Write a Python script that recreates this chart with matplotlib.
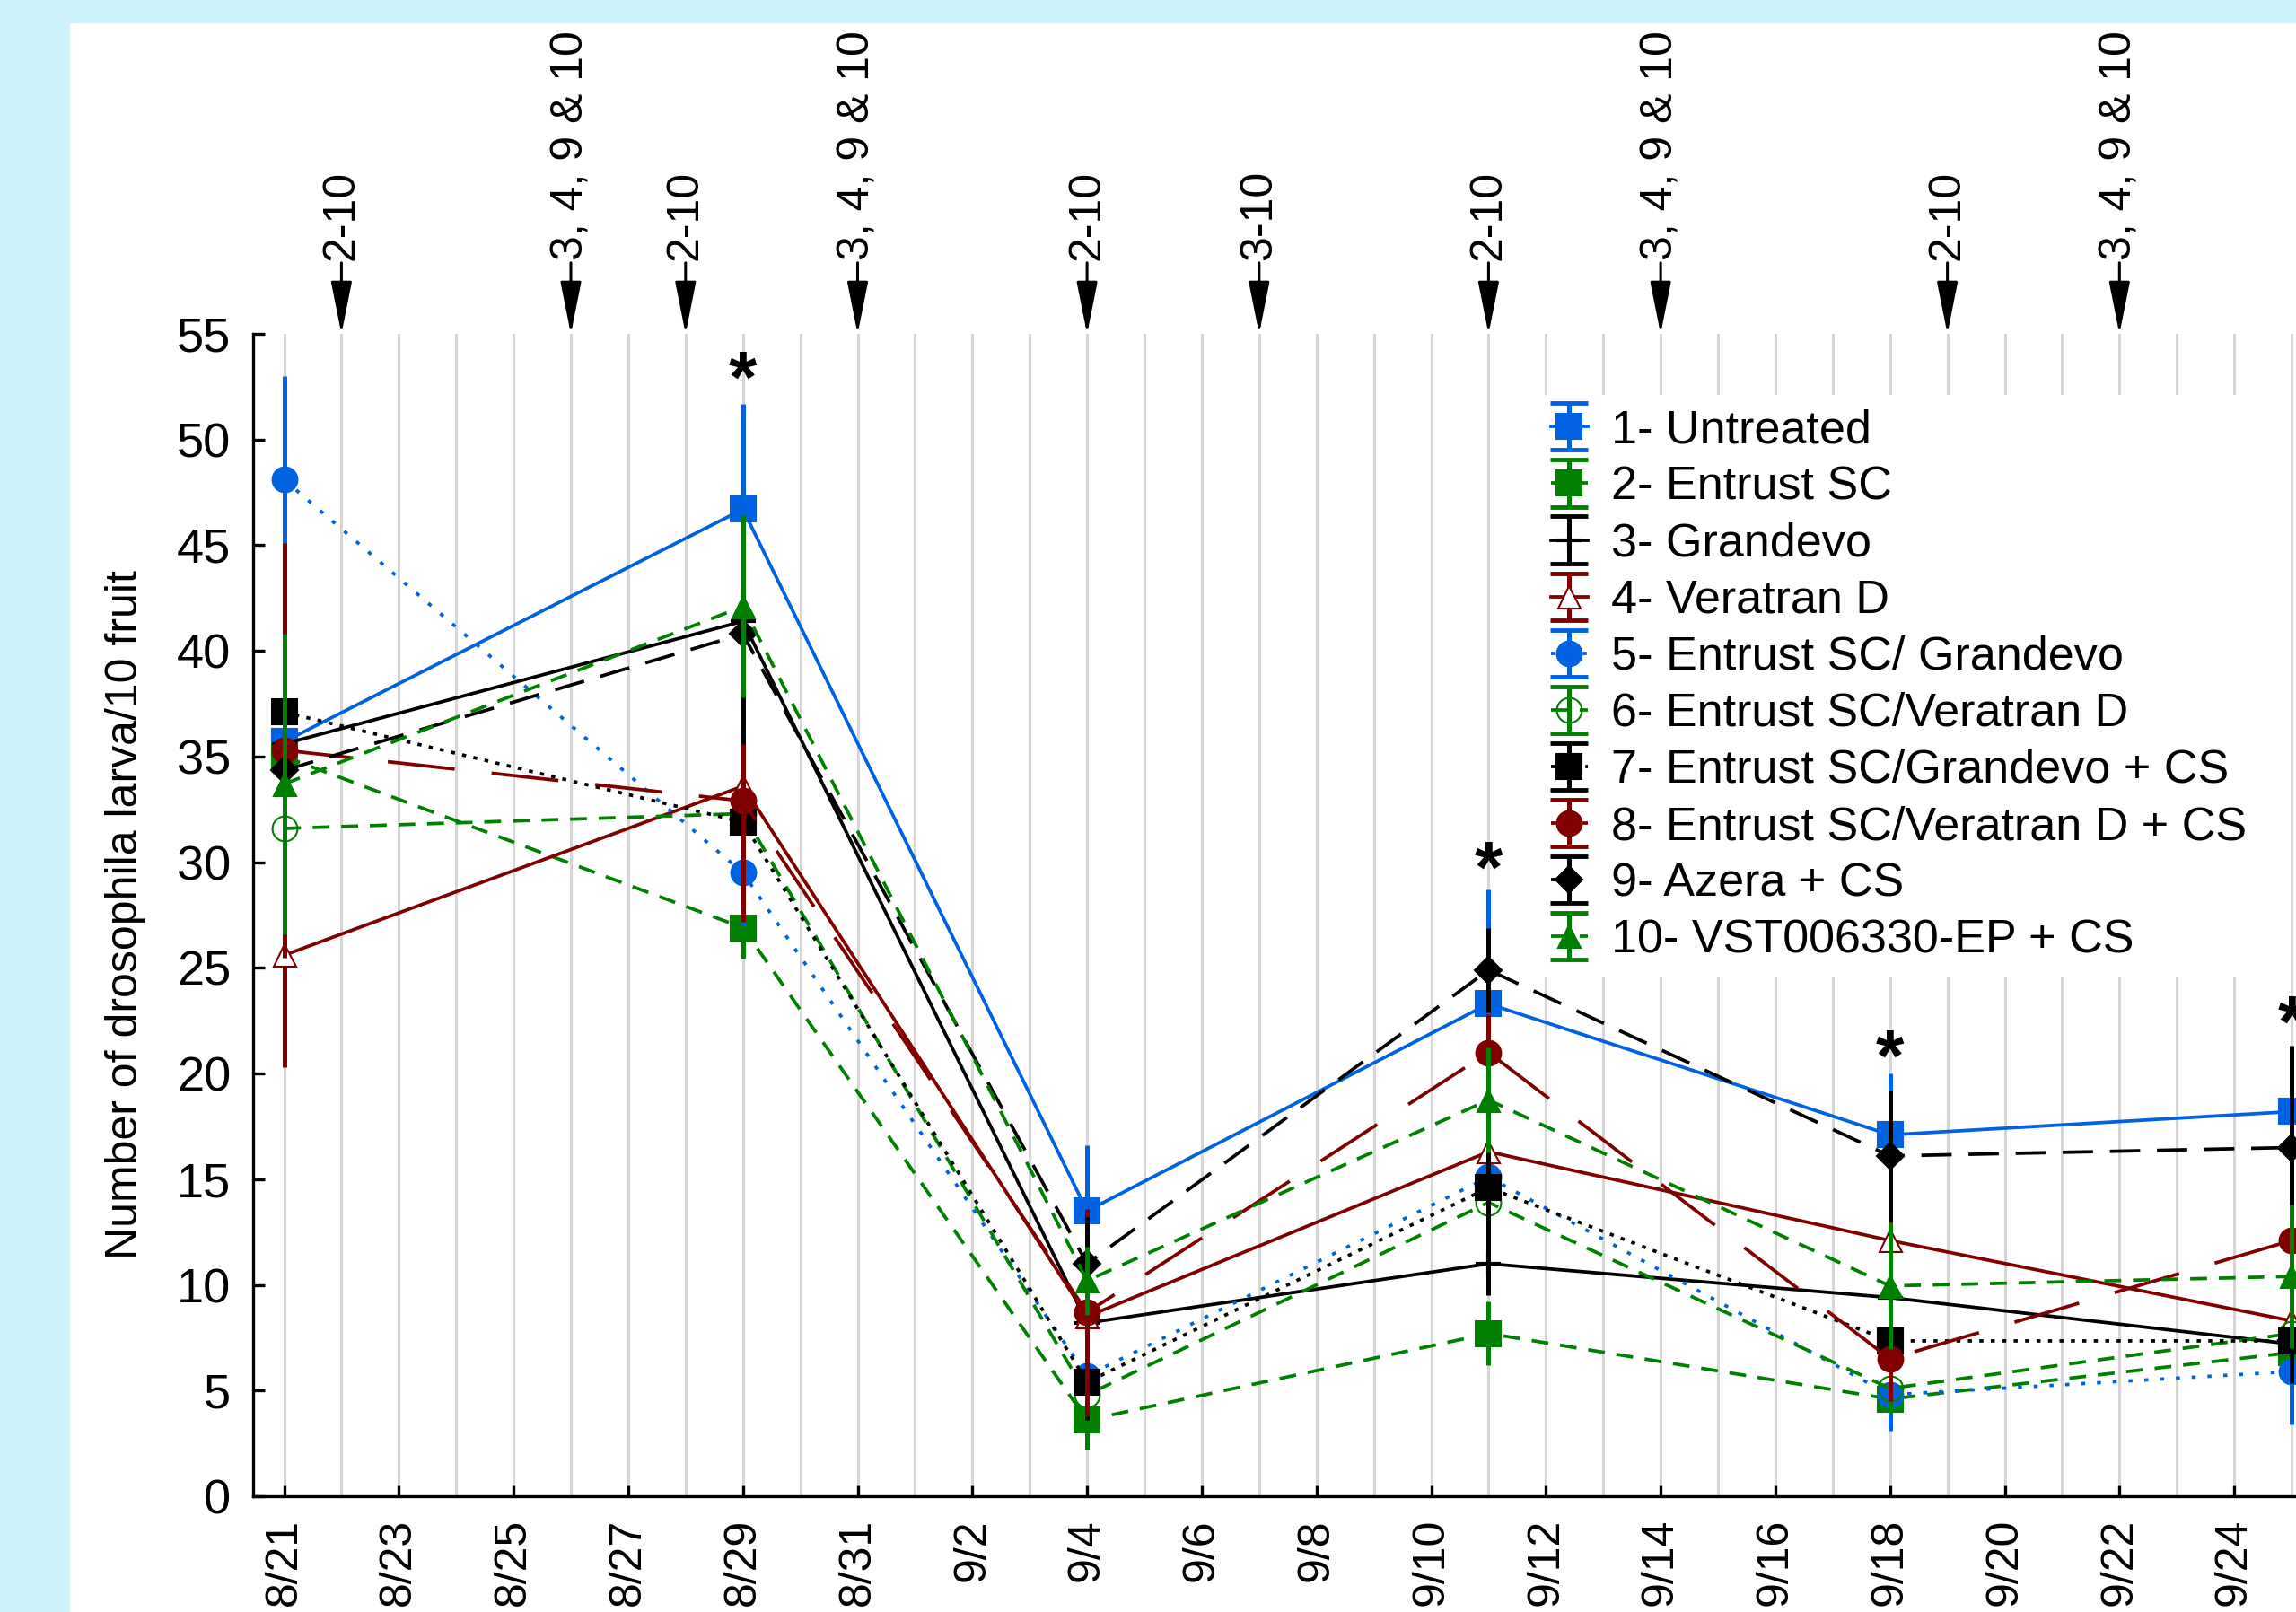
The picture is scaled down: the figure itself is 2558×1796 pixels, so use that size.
import datetime as dt

import matplotlib
matplotlib.use('Agg')
from matplotlib import pyplot as plt
from matplotlib.lines import Line2D
from matplotlib.collections import LineCollection
from matplotlib.container import ErrorbarContainer
from matplotlib.patches import Rectangle

plt.rcParams['font.family'] = ['Liberation Sans', 'DejaVu Sans']

YEAR = 2014

# sampling dates and mean larvae per 10 fruit (+/- error)
sample_days = ['8/21', '8/29', '9/4', '9/11', '9/18', '9/25']

untreated = [35.7, 46.7, 13.5, 23.3, 17.1, 18.2]
untreated_err = [5.0, 5.0, 3.1, 5.4, 2.9, 2.0]
entrust = [35.0, 26.9, 3.6, 7.7, 4.6, 6.8]
entrust_err = [4.0, 1.45, 1.4, 1.5, 1.0, 1.0]
grandevo = [35.6, 41.4, 8.2, 11.0, 9.4, 7.2]
grandevo_err = [3.0, 4.0, 1.5, 1.5, 1.5, 1.5]
veratran = [25.6, 33.6, 8.5, 16.3, 12.1, 8.3]
veratran_err = [5.3, 2.0, 2.0, 3.0, 2.0, 2.0]
entrust_grandevo = [48.1, 29.5, 5.7, 15.1, 4.8, 5.9]
entrust_grandevo_err = [4.9, 2.5, 1.5, 2.0, 1.7, 2.5]
entrust_veratran = [31.6, 32.3, 4.8, 13.9, 5.1, 7.7]
entrust_veratran_err = [3.0, 3.0, 1.2, 2.5, 1.2, 1.5]
entrust_grandevo_cs = [37.1, 31.9, 5.4, 14.6, 7.35, 7.35]
entrust_grandevo_cs_err = [3.0, 3.0, 1.8, 4.8, 2.0, 2.0]
entrust_veratran_cs = [35.3, 32.9, 8.7, 21.0, 6.5, 12.1]
entrust_veratran_cs_err = [9.8, 5.7, 4.9, 1.8, 2.0, 2.3]
azera_cs = [34.35, 40.8, 11.0, 24.9, 16.1, 16.5]
azera_cs_err = [3.0, 5.2, 2.2, 2.0, 3.1, 4.8]
vst_cs = [33.7, 42.1, 10.2, 18.75, 9.95, 10.4]
vst_cs_err = [7.1, 4.3, 1.6, 2.5, 3.0, 3.4]

treatment_names = ['1- Untreated', '2- Entrust SC', '3- Grandevo', '4- Veratran D',
                   '5- Entrust SC/ Grandevo', '6- Entrust SC/Veratran D',
                   '7- Entrust SC/Grandevo + CS', '8- Entrust SC/Veratran D + CS',
                   '9- Azera + CS', '10- VST006330-EP + CS']

# spray applications (arrows above plot)
spray_days = ['8/22', '8/26', '8/28', '8/31', '9/4', '9/7', '9/11', '9/14', '9/19', '9/22']
spray_labels = ['2-10', '3, 4, 9 & 10', '2-10', '3, 4, 9 & 10', '2-10', '3-10',
                '2-10', '3, 4, 9 & 10', '2-10', '3, 4, 9 & 10']

# significance stars
star_days = ['8/29', '9/11', '9/18', '9/25']
star_heights = [53.3, 30.1, 21.2, 22.8]

BLUE = '#0062E0'
GREEN = '#008000'
RED = '#800000'
BLACK = 'black'

means = [untreated, entrust, grandevo, veratran, entrust_grandevo, entrust_veratran,
         entrust_grandevo_cs, entrust_veratran_cs, azera_cs, vst_cs]
errors = [untreated_err, entrust_err, grandevo_err, veratran_err, entrust_grandevo_err,
          entrust_veratran_err, entrust_grandevo_cs_err, entrust_veratran_cs_err,
          azera_cs_err, vst_cs_err]

styles = [
    dict(color=BLUE, ls='-', marker='s', ms=20, mfc=BLUE),
    dict(color=GREEN, ls=(0, (5, 3.5)), marker='s', ms=20, mfc=GREEN),
    dict(color=BLACK, ls='-', marker='+', ms=20, mfc=BLACK),
    dict(color=RED, ls='-', marker='^', ms=18, mfc='white'),
    dict(color=BLUE, ls=(0, (1.2, 3.5)), marker='o', ms=20, mfc=BLUE),
    dict(color=GREEN, ls=(0, (5, 3.5)), marker='o', ms=20, mfc='none'),
    dict(color=BLACK, ls=(0, (1.2, 2.2)), marker='s', ms=20, mfc=BLACK),
    dict(color=RED, ls=(0, (20, 11)), marker='o', ms=20, mfc=RED),
    dict(color=BLACK, ls=(0, (9, 5)), marker='D', ms=15, mfc=BLACK),
    dict(color=GREEN, ls=(0, (5, 3.5)), marker='^', ms=18, mfc=GREEN),
]


def to_date(s):
    m, d = s.split('/')
    return dt.datetime(YEAR, int(m), int(d))


dates = [to_date(s) for s in sample_days]
d0 = dates[0]

W, H = 2558, 1796
fig = plt.figure(figsize=(W / 100, H / 100), dpi=100, facecolor='#CCF2FC')
fig.patches.append(Rectangle((78 / W, 0), 1, 1 - 26 / H, transform=fig.transFigure,
                             facecolor='white', edgecolor='none', zorder=-10))

px_per_day = 63.9
left_pad_days = 0.54
right_days = 36
ax_w = (right_days + left_pad_days) * px_per_day / W
ax = fig.add_axes([282 / W, (H - 1667) / H, ax_w, (1667 - 372) / H])
ax.set_facecolor('none')

lw = 2.7
for i, (y, e, st) in enumerate(zip(means, errors, styles)):
    ax.errorbar(dates, y, yerr=e, color=st['color'], ls=st['ls'], lw=lw,
                marker=st['marker'], ms=st['ms'], mfc=st['mfc'], mec=st['color'],
                mew=3 if st['marker'] == '+' else 1.5,
                elinewidth=3.6, capsize=0, zorder=3 + i * 0.2)

for d, h in zip(star_days, star_heights):
    ax.annotate('*', xy=(to_date(d), h), xytext=(0, -10.5), textcoords='offset points',
                fontsize=58, fontweight='bold', ha='center', va='center',
                annotation_clip=False, zorder=6)

for d, lab in zip(spray_days, spray_labels):
    ax.annotate(lab, xy=(to_date(d), 55), xycoords='data', xytext=(0, 59),
                textcoords='offset points', rotation=90, ha='center', va='bottom',
                fontsize=36, annotation_clip=False,
                arrowprops=dict(arrowstyle='-|>,head_length=1.0,head_width=0.2',
                                color='black', lw=2.2, shrinkA=0, shrinkB=0))

ax.set_xlim(d0 - dt.timedelta(days=left_pad_days), d0 + dt.timedelta(days=right_days))
ax.set_ylim(0, 55)
ax.set_yticks(range(0, 56, 5))

major = [d0 + dt.timedelta(days=k) for k in range(0, right_days + 1, 2)]
minor = [d0 + dt.timedelta(days=k) for k in range(0, right_days + 1)]
ax.set_xticks(major)
ax.set_xticks(minor, minor=True)
ax.set_xticklabels(['{}/{}'.format(d.month, d.day) for d in major], rotation=90)
ax.grid(True, axis='x', which='both', color='#D6D6D6', lw=2.2)
ax.set_axisbelow(True)

ax.tick_params(axis='x', which='major', direction='in', length=9, width=2.4,
               labelsize=36, pad=18)
ax.tick_params(axis='x', which='minor', length=0)
ax.tick_params(axis='y', direction='in', length=9, width=2.4, labelsize=39, pad=18)
for side in ['top', 'right']:
    ax.spines[side].set_visible(False)
for side in ['left', 'bottom']:
    ax.spines[side].set_linewidth(2.4)

ax.set_ylabel('Number of drosophila larva/10 fruit', fontsize=36, labelpad=24)

handles = []
for name, st in zip(treatment_names, styles):
    line = Line2D([], [], color=st['color'], ls=st['ls'], lw=lw, marker=st['marker'],
                  ms=st['ms'], mfc=st['mfc'], mec=st['color'],
                  mew=3 if st['marker'] == '+' else 1.5)
    cap = Line2D([], [], color=st['color'], marker='_', ms=30, mew=3.5)
    bars = LineCollection([], colors=st['color'], linewidths=3.6)
    handles.append(ErrorbarContainer((line, (cap,), (bars,)), has_xerr=False,
                                     has_yerr=True, label=name))

leg = ax.legend(handles=handles, loc='upper left',
                bbox_to_anchor=(1712 / W, 1 - 440 / H), bbox_transform=fig.transFigure,
                borderaxespad=0, fontsize=37.5, handlelength=0.8, handletextpad=0.5,
                labelspacing=0.27, borderpad=0.3, frameon=True, fancybox=False,
                facecolor='white', edgecolor='none', framealpha=1)
leg.set_zorder(10)

fig.savefig('out.png', dpi=100, facecolor=fig.get_facecolor())
